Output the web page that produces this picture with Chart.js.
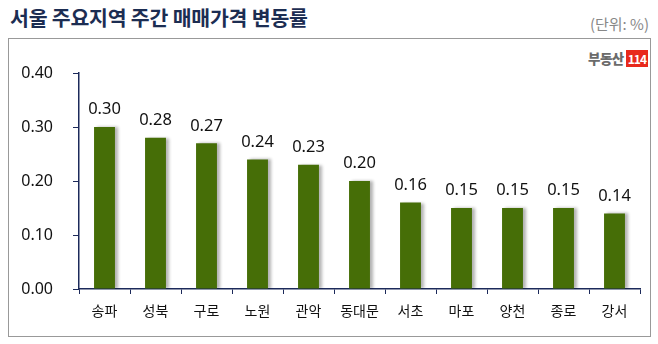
<!DOCTYPE html>
<html>
<head>
<meta charset="utf-8">
<script src="https://cdn.jsdelivr.net/npm/chart.js@4"></script>
<style>
    body { margin: 0; background: #fff; }
    #wrap { position: relative; width: 658px; height: 344px; overflow: hidden; font-family: "Noto Sans CJK KR", "Noto Sans", sans-serif; }
    #title { position: absolute; left: 10px; top: 2px; font-size: 20.5px; font-weight: bold; color: #1c2d52; letter-spacing: -0.2px; }
    #unit { position: absolute; right: 9px; top: 13px; font-size: 15px; color: #888; }
    #box { position: absolute; left: 8px; top: 38px; width: 641px; height: 297px; border: 1px solid #999; }
    #logo { position: absolute; right: 10px; top: 48px; display: flex; align-items: center; }
    #logo .txt { font-size: 13.5px; font-weight: 900; color: #6b6b6b; letter-spacing: -0.5px; margin-right: 2px; }
    #logo .num { background: #e8291c; color: #fff; font-size: 12px; font-weight: bold; padding: 0 2px; line-height: 17px; letter-spacing: -1px; }
    #chart { position: absolute; left: 0; top: 0; }
</style>
</head>
<body>
<div id="wrap">
    <div id="title">서울 주요지역 주간 매매가격 변동률</div>
    <div id="unit">(단위: %)</div>
    <div id="box"></div>
    <div id="logo"><span class="txt">부동산</span><span class="num">114</span></div>
    <canvas id="chart" width="658" height="344"></canvas>
</div>
<script>
// Weekly price change by district (%)
const districts = ['송파', '성북', '구로', '노원', '관악', '동대문', '서초', '마포', '양천', '종로', '강서'];
const changeRates = [0.30, 0.28, 0.27, 0.24, 0.23, 0.20, 0.16, 0.15, 0.15, 0.15, 0.14];

const axisColor = '#1c2a5a';
const barColor = '#466e07';

// draws the value above each bar
const valueLabels = {
    id: 'valueLabels',
    afterDatasetsDraw(chart) {
        const ctx = chart.ctx;
        const meta = chart.getDatasetMeta(0);
        ctx.save();
        ctx.font = '16.5px "Noto Sans", sans-serif';
        ctx.fillStyle = '#111';
        ctx.textAlign = 'center';
        ctx.textBaseline = 'bottom';
        meta.data.forEach((bar, i) => {
            ctx.fillText(changeRates[i].toFixed(2), bar.x, bar.y - 9);
        });
        ctx.restore();
    }
};

// soft shadow on the right side of bars
const barShadow = {
    id: 'barShadow',
    beforeDatasetsDraw(chart) {
        const ctx = chart.ctx;
        ctx.save();
        ctx.shadowColor = 'rgba(0,0,0,0.3)';
        ctx.shadowBlur = 3;
        ctx.shadowOffsetX = 3;
        ctx.shadowOffsetY = 0;
    },
    afterDatasetsDraw(chart) {
        chart.ctx.restore();
    }
};

new Chart(document.getElementById('chart'), {
    type: 'bar',
    data: {
        labels: districts,
        datasets: [{
            data: changeRates,
            backgroundColor: barColor,
            barPercentage: 0.41,
            categoryPercentage: 1.0
        }]
    },
    options: {
        responsive: false,
        animation: false,
        layout: { padding: { top: 73, right: 18, left: 0, bottom: 0 } },
        plugins: {
            legend: { display: false },
            tooltip: { enabled: false }
        },
        scales: {
            x: {
                afterFit: s => { s.height = 55; },
                grid: { drawOnChartArea: false, drawTicks: true, tickLength: 5, color: axisColor },
                border: { display: true, color: axisColor, width: 1.5 },
                ticks: {
                    color: '#111',
                    padding: 8,
                    font: { family: '"Noto Sans CJK KR", sans-serif', size: 14 }
                }
            },
            y: {
                min: 0,
                max: 0.4,
                afterFit: s => { s.width = 79; },
                grid: { drawOnChartArea: false, drawTicks: true, tickLength: 6, color: axisColor },
                border: { display: true, color: axisColor, width: 1.5 },
                ticks: {
                    stepSize: 0.1,
                    color: '#111',
                    padding: 20,
                    font: { family: '"Noto Sans", sans-serif', size: 16 },
                    callback: v => v.toFixed(2)
                }
            }
        }
    },
    plugins: [barShadow, valueLabels]
});
</script>
</body>
</html>
